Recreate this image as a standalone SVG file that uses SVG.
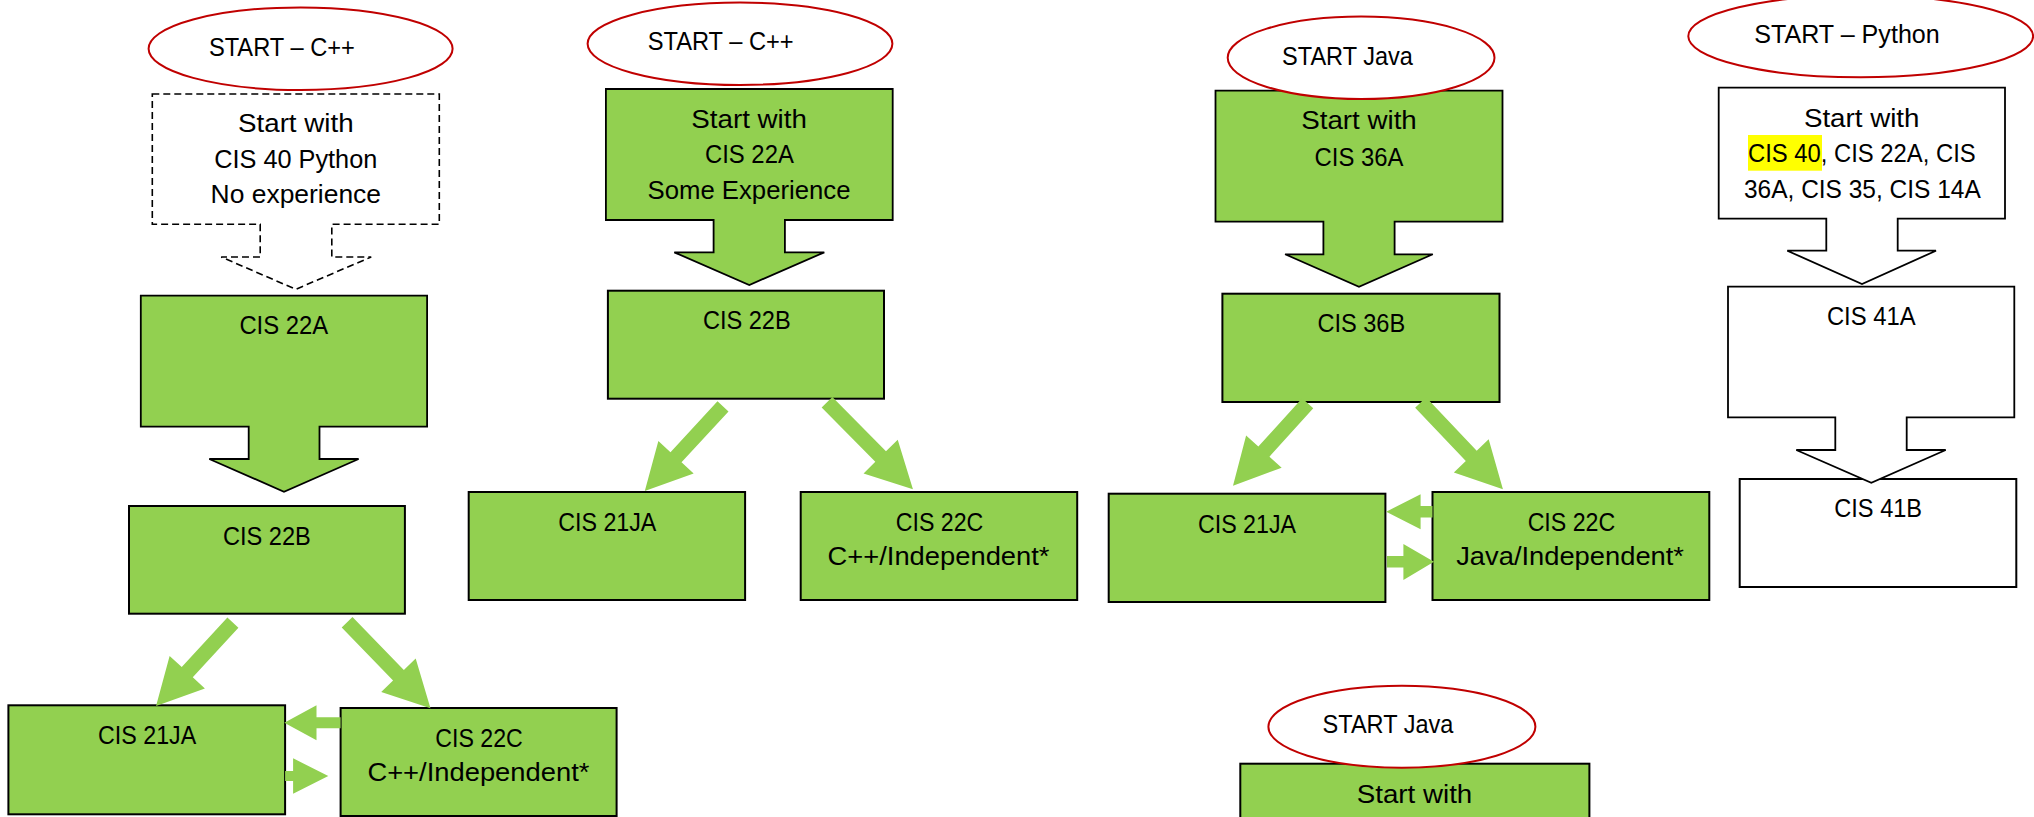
<svg xmlns="http://www.w3.org/2000/svg" width="2034" height="817" viewBox="0 0 2034 817">
<style>
  .bg{fill:#ffffff}
  .box{fill:#92D050;stroke:#000;stroke-width:2}
  .wbox{fill:#ffffff;stroke:#000;stroke-width:2}
  .call{fill:#92D050;stroke:#000;stroke-width:1.8;stroke-linejoin:miter}
  .wcall{fill:#ffffff;stroke:#000;stroke-width:1.8}
  .dcall{fill:#ffffff;stroke:#000;stroke-width:1.6;stroke-dasharray:7 4}
  .start{fill:#ffffff;stroke:#C00000;stroke-width:2}
  .arr{fill:#92D050;stroke:none}
  text{font-family:"Liberation Sans",Arial,sans-serif;font-size:26px;fill:#000}
  .m{text-anchor:middle}
</style>
<rect class="bg" x="0" y="0" width="2034" height="817"/>

<!-- Column 1 -->
<g id="c1-start">
  <ellipse class="start" cx="300.6" cy="48.7" rx="152" ry="41.3"/>
  <text class="m" x="281.9" y="56" textLength="146" lengthAdjust="spacingAndGlyphs">START – C++</text>
</g>
<g id="c1-cis40">
  <path class="dcall" d="M152.3 94 H439.3 V224.3 H331.8 V257 H371.2 L295.8 289.3 L221.2 257 H260.2 V224.3 H152.3 Z"/>
  <text class="m" x="295.8" y="131.7" textLength="115.6" lengthAdjust="spacingAndGlyphs">Start with</text>
  <text class="m" x="295.8" y="167.7" textLength="163" lengthAdjust="spacingAndGlyphs">CIS 40 Python</text>
  <text class="m" x="295.8" y="203.3" textLength="170.4" lengthAdjust="spacingAndGlyphs">No experience</text>
</g>
<g id="c1-cis22a">
  <path class="call" d="M140.8 295.7 H427.1 V426.7 H319.5 V459 H358.6 L284 491.7 L209.3 459 H248.7 V426.7 H140.8 Z"/>
  <text class="m" x="283.8" y="334.3" textLength="88.8" lengthAdjust="spacingAndGlyphs">CIS 22A</text>
</g>
<g id="c1-cis22b">
  <rect class="box" x="129" y="506" width="275.9" height="107.7"/>
  <text class="m" x="266.9" y="544.7" textLength="87.8" lengthAdjust="spacingAndGlyphs">CIS 22B</text>
</g>
<g id="c1-cis21ja">
  <rect class="box" x="8.4" y="705.3" width="276.7" height="109"/>
  <text class="m" x="147.1" y="744.3" textLength="98.1" lengthAdjust="spacingAndGlyphs">CIS 21JA</text>
</g>
<g id="c1-cis22c">
  <rect class="box" x="340.6" y="708" width="276" height="108"/>
  <text class="m" x="479.1" y="746.7" textLength="87.5" lengthAdjust="spacingAndGlyphs">CIS 22C</text>
  <text class="m" x="478.4" y="781" textLength="222" lengthAdjust="spacingAndGlyphs">C++/Independent*</text>
</g>

<!-- Column 2 -->
<g id="c2-start">
  <ellipse class="start" cx="740" cy="43.8" rx="152.4" ry="41.2"/>
  <text class="m" x="720.7" y="50" textLength="146" lengthAdjust="spacingAndGlyphs">START – C++</text>
</g>
<g id="c2-cis22a">
  <path class="call" d="M605.9 89 H892.7 V220 H784.9 V252.3 H824.3 L749.3 285 L674.3 252.3 H713.6 V220 H605.9 Z"/>
  <text class="m" x="749.1" y="127.7" textLength="115.6" lengthAdjust="spacingAndGlyphs">Start with</text>
  <text class="m" x="749.4" y="162.7" textLength="88.8" lengthAdjust="spacingAndGlyphs">CIS 22A</text>
  <text class="m" x="749" y="198.7" textLength="203" lengthAdjust="spacingAndGlyphs">Some Experience</text>
</g>
<g id="c2-cis22b">
  <rect class="box" x="607.9" y="290.7" width="276.1" height="108"/>
  <text class="m" x="746.8" y="329.3" textLength="87.8" lengthAdjust="spacingAndGlyphs">CIS 22B</text>
</g>
<g id="c2-cis21ja">
  <rect class="box" x="468.7" y="492" width="276.4" height="108"/>
  <text class="m" x="607.3" y="530.7" textLength="98.1" lengthAdjust="spacingAndGlyphs">CIS 21JA</text>
</g>
<g id="c2-cis22c">
  <rect class="box" x="800.7" y="492" width="276.5" height="108"/>
  <text class="m" x="939.5" y="530.7" textLength="87.5" lengthAdjust="spacingAndGlyphs">CIS 22C</text>
  <text class="m" x="938.5" y="565.3" textLength="222" lengthAdjust="spacingAndGlyphs">C++/Independent*</text>
</g>

<!-- Column 3 -->
<g id="c3-cis36a">
  <path class="call" d="M1215.5 90.7 H1502.5 V221.7 H1394.6 V254.3 H1432.8 L1359 286.7 L1285.1 254.3 H1323.4 V221.7 H1215.5 Z"/>
  <text class="m" x="1359" y="129.3" textLength="115.6" lengthAdjust="spacingAndGlyphs">Start with</text>
  <text class="m" x="1359" y="165.7" textLength="88.8" lengthAdjust="spacingAndGlyphs">CIS 36A</text>
</g>
<g id="c3-start">
  <ellipse class="start" cx="1361.1" cy="57.8" rx="133.4" ry="41.2"/>
  <text class="m" x="1347.5" y="65" textLength="130.8" lengthAdjust="spacingAndGlyphs">START Java</text>
</g>
<g id="c3-cis36b">
  <rect class="box" x="1222.4" y="293.7" width="277.1" height="108.3"/>
  <text class="m" x="1361.3" y="332.3" textLength="87.8" lengthAdjust="spacingAndGlyphs">CIS 36B</text>
</g>
<g id="c3-cis21ja">
  <rect class="box" x="1108.7" y="493.7" width="276.7" height="108.3"/>
  <text class="m" x="1247" y="532.7" textLength="98.1" lengthAdjust="spacingAndGlyphs">CIS 21JA</text>
</g>
<g id="c3-cis22c">
  <rect class="box" x="1432.5" y="492" width="276.8" height="108"/>
  <text class="m" x="1571.4" y="530.7" textLength="87.5" lengthAdjust="spacingAndGlyphs">CIS 22C</text>
  <text class="m" x="1570.1" y="565.3" textLength="227.8" lengthAdjust="spacingAndGlyphs">Java/Independent*</text>
</g>
<g id="c3b-box">
  <rect class="box" x="1240.3" y="763.7" width="349.1" height="70"/>
  <text class="m" x="1414.5" y="802.7" textLength="115.6" lengthAdjust="spacingAndGlyphs">Start with</text>
</g>
<g id="c3b-start">
  <ellipse class="start" cx="1401.9" cy="726.7" rx="133.5" ry="41"/>
  <text class="m" x="1388" y="733.3" textLength="130.8" lengthAdjust="spacingAndGlyphs">START Java</text>
</g>

<!-- Column 4 -->
<g id="c4-start">
  <ellipse class="start" cx="1860.7" cy="36.3" rx="172.4" ry="41"/>
  <text class="m" x="1847" y="42.7" textLength="185.5" lengthAdjust="spacingAndGlyphs">START – Python</text>
</g>
<g id="c4-startwith">
  <path class="wcall" d="M1718.7 87.7 H2005 V218.7 H1897.7 V250.7 H1936 L1862 284 L1787.3 250.7 H1826.3 V218.7 H1718.7 Z"/>
  <rect x="1748" y="135" width="74" height="35.7" fill="#FFFF00"/>
  <text class="m" x="1861.7" y="126.7" textLength="115.6" lengthAdjust="spacingAndGlyphs">Start with</text>
  <text x="1748" y="162.3" textLength="227.7" lengthAdjust="spacingAndGlyphs">CIS 40, CIS 22A, CIS</text>
  <text x="1744" y="197.7" textLength="236.7" lengthAdjust="spacingAndGlyphs">36A, CIS 35, CIS 14A</text>
</g>
<g id="c4-cis41b">
  <rect class="wbox" x="1739.7" y="479" width="276.6" height="108"/>
  <text class="m" x="1878.2" y="517.3" textLength="87.8" lengthAdjust="spacingAndGlyphs">CIS 41B</text>
</g>
<g id="c4-cis41a">
  <path class="wcall" d="M1728 286.7 H2014.3 V417.3 H1906.7 V450 H1945.7 L1871.3 482.7 L1796.3 450 H1835.3 V417.3 H1728 Z"/>
  <text class="m" x="1871.3" y="325" textLength="88.8" lengthAdjust="spacingAndGlyphs">CIS 41A</text>
</g>

<!-- Connectors -->
<g id="connectors">
  <polygon class="arr" transform="translate(232.9,622.7) rotate(132.7)" points="0,-7.5 67.3,-7.5 67.3,-24 113.3,0 67.3,24 67.3,7.5 0,7.5"/>
  <polygon class="arr" transform="translate(347.1,622.3) rotate(45.9)" points="0,-7.5 73.8,-7.5 73.8,-24 119.8,0 73.8,24 73.8,7.5 0,7.5"/>
  <polygon class="arr" points="340.6,717.2 316.5,717.2 316.5,705.2 284.3,722.7 316.5,740.2 316.5,728.2 340.6,728.2"/>
  <polygon class="arr" points="285.1,771 293.1,771 293.1,758.3 328.3,776 293.1,793.7 293.1,781 285.1,781"/>

  <polygon class="arr" transform="translate(723,406.3) rotate(132.7)" points="0,-7.5 69.3,-7.5 69.3,-24 115.3,0 69.3,24 69.3,7.5 0,7.5"/>
  <polygon class="arr" transform="translate(827,402.2) rotate(45.4)" points="0,-7.5 76.4,-7.5 76.4,-24 122.4,0 76.4,24 76.4,7.5 0,7.5"/>

  <polygon class="arr" transform="translate(1307.7,403.3) rotate(132.2)" points="0,-7.5 65.2,-7.5 65.2,-24 111.2,0 65.2,24 65.2,7.5 0,7.5"/>
  <polygon class="arr" transform="translate(1420.6,402.5) rotate(46.5)" points="0,-7.5 73.6,-7.5 73.6,-24 119.6,0 73.6,24 73.6,7.5 0,7.5"/>
  <polygon class="arr" points="1432.5,506 1420.6,506 1420.6,494.3 1386.2,511.7 1420.6,529.3 1420.6,517.4 1432.5,517.4"/>
  <polygon class="arr" points="1386.9,556 1403.4,556 1403.4,544 1434,561.7 1403.4,580 1403.4,567.4 1386.9,567.4"/>
</g>
</svg>
